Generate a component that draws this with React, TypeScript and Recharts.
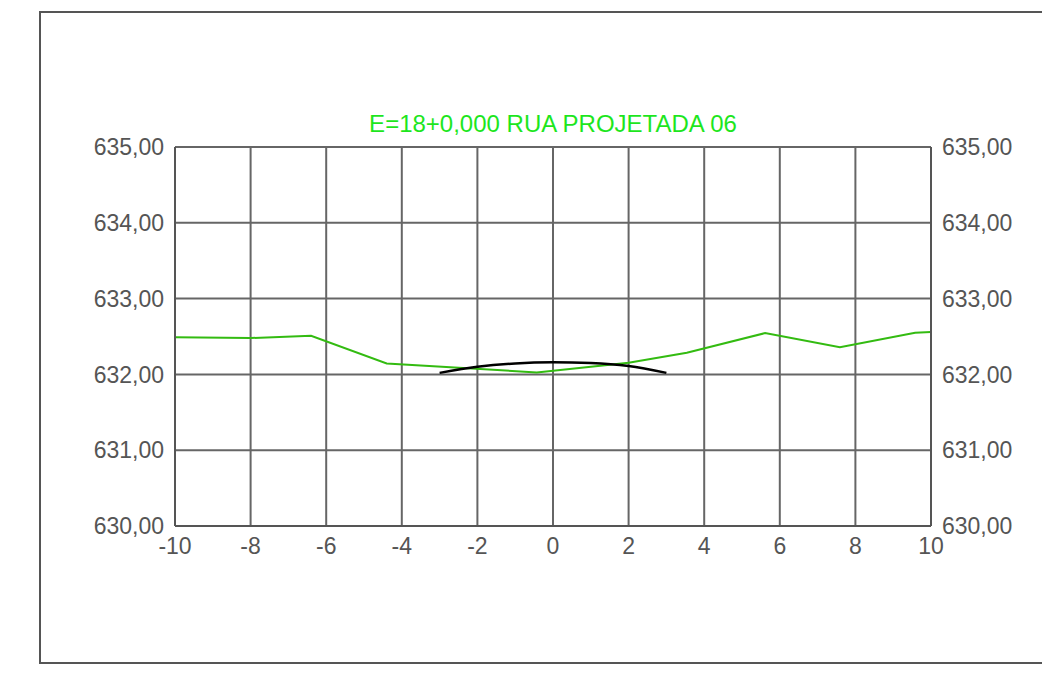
import { LineChart, Line, XAxis, YAxis, CartesianGrid } from 'recharts';

// perfil do terreno (verde)
const groundX = [-10, -8, -6.4, -4.4, -0.43, 2, 3.54, 5.61, 7.59, 9.58, 10];
const groundY = [632.49, 632.48, 632.51, 632.145, 632.026, 632.153, 632.285, 632.545, 632.36, 632.55, 632.56];

// seção projetada (preto)
const roadX = [-3, -2, -1, 0, 1, 2, 3];
const roadY = [632.02, 632.1, 632.145, 632.16, 632.15, 632.11, 632.02];

const xTicks = [-10, -8, -6, -4, -2, 0, 2, 4, 6, 8, 10];
const yTicks = [630, 631, 632, 633, 634, 635];

const title = 'E=18+0,000 RUA PROJETADA 06';

const ground = groundX.map((x, i) => ({ x, y: groundY[i] }));
const road = roadX.map((x, i) => ({ x, y: roadY[i] }));

const fmtY = (v: number) => v.toFixed(2).replace('.', ',');
const font = '"Liberation Sans", Arial, sans-serif';
const tickStyle = { fontSize: 23, fill: '#555', fontFamily: font };

export default function App() {
  return (
    <div
      style={{
        position: 'absolute',
        left: 0,
        top: 0,
        width: 1042,
        height: 676,
        overflow: 'hidden',
        background: '#fff',
        fontFamily: font,
      }}
    >
      <div
        style={{
          position: 'absolute',
          left: 39,
          top: 11,
          width: 1100,
          height: 649,
          border: '2px solid #555',
        }}
      />
      <div
        style={{
          position: 'absolute',
          left: 553,
          top: 108,
          transform: 'translateX(-50%)',
          whiteSpace: 'nowrap',
          color: '#1de61d',
          fontSize: 24,
          lineHeight: '32px',
        }}
      >
        {title}
      </div>
      <div style={{ position: 'absolute', left: 0, top: 0 }}>
        <LineChart
          width={1042}
          height={676}
          margin={{ top: 147, right: 31, bottom: 110, left: 95 }}
        >
          <CartesianGrid yAxisId="l" stroke="#666" strokeWidth={2} fill="none" />
          <XAxis
            type="number"
            dataKey="x"
            domain={[-10, 10]}
            ticks={xTicks}
            height={40}
            tickLine={false}
            tickSize={6}
            tickMargin={6}
            axisLine={{ stroke: '#555', strokeWidth: 2 }}
            tick={tickStyle}
            interval={0}
            allowDataOverflow
          />
          <YAxis
            yAxisId="l"
            orientation="left"
            type="number"
            domain={[630, 635]}
            ticks={yTicks}
            width={80}
            tickLine={false}
            tickSize={6}
            tickMargin={5}
            axisLine={{ stroke: '#555', strokeWidth: 2 }}
            tick={tickStyle}
            tickFormatter={fmtY}
            interval={0}
          />
          <YAxis
            yAxisId="r"
            orientation="right"
            type="number"
            domain={[630, 635]}
            ticks={yTicks}
            width={80}
            tickLine={false}
            tickSize={6}
            tickMargin={5}
            axisLine={{ stroke: '#555', strokeWidth: 2 }}
            tick={tickStyle}
            tickFormatter={fmtY}
            interval={0}
          />
          <Line
            yAxisId="r"
            data={ground}
            dataKey="y"
            type="linear"
            stroke="none"
            dot={false}
            legendType="none"
            isAnimationActive={false}
          />
          <Line
            yAxisId="l"
            data={ground}
            dataKey="y"
            type="linear"
            stroke="#33bb11"
            strokeWidth={2}
            dot={false}
            isAnimationActive={false}
          />
          <Line
            yAxisId="l"
            data={road}
            dataKey="y"
            type="monotone"
            stroke="#000"
            strokeWidth={2.5}
            dot={false}
            isAnimationActive={false}
          />
        </LineChart>
      </div>
    </div>
  );
}
